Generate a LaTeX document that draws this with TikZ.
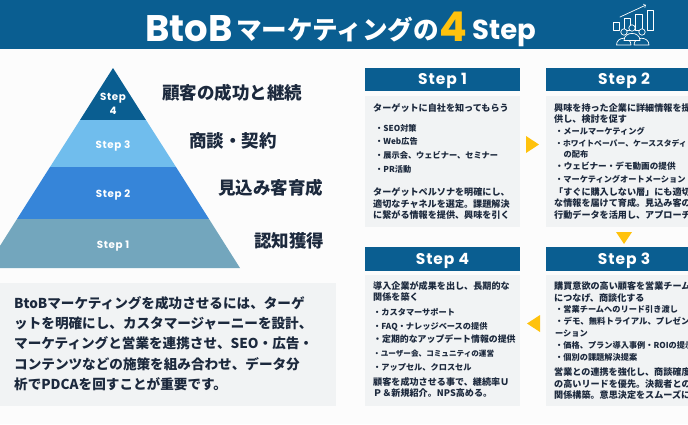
\documentclass[tikz,border=0pt]{standalone}
\usepackage{fontspec}
\usepackage{xcolor}
\setmainfont{Noto Sans CJK JP}
\newfontfamily\stepfont{Poppins}
\usetikzlibrary{arrows}
\definecolor{hdblue}{rgb}{0.04,0.37,0.57}
\definecolor{skyblue}{rgb}{0.44,0.74,0.93}
\definecolor{midblue}{rgb}{0.21,0.52,0.85}
\definecolor{greyblue}{rgb}{0.45,0.65,0.74}
\definecolor{cardgrey}{rgb}{0.945,0.953,0.957}
\definecolor{amber}{rgb}{1.,0.76,0.05}
\definecolor{inktext}{rgb}{0.11,0.16,0.24}
\newcommand{\sz}[1]{\fontsize{#1}{12}\selectfont}
\tikzset{
  stagetext/.style={inner sep=0pt,text=inktext,font=\fontsize{17.5}{19}\selectfont\bfseries},
  pyrtext/.style={inner sep=0pt,text=white,align=center,font=\stepfont\addfontfeature{LetterSpace=6}\fontsize{10.3}{14}\selectfont\bfseries},
  cardhead/.style={fill=hdblue,minimum width=156pt,minimum height=23.5pt,inner sep=0pt,text=white,font=\stepfont\addfontfeature{LetterSpace=6}\fontsize{15.5}{17}\selectfont\bfseries},
  leadtext/.style={anchor=north west,inner sep=0pt,align=left,text=inktext,font=\fontsize{9.1}{11.5}\selectfont\bfseries},
  listtext/.style={anchor=north west,inner sep=0pt,align=left,text=inktext,font=\fontsize{8.2}{#1}\selectfont\bfseries},
  icon/.style={draw=white,line width=0.7pt}
}
\begin{document}
\begin{tikzpicture}[line cap=round,line join=round,x=1.0pt,y=-1.0pt]
\useasboundingbox (0,0) rectangle (688,424);
\clip (0,0) rectangle (688,424);
\fill [color=white!99!black] (0,0) rectangle (688,424);
% title bar
\fill [color=hdblue] (0,0) rectangle (688,48.5);
\node [inner sep=0pt,anchor=base west,text=white,font=\stepfont\fontsize{37}{39}\selectfont\bfseries] (titleab) at (145,41) {BtoB};
\node [inner sep=0pt,anchor=base west,text=white,font=\fontsize{25.6}{27}\selectfont\bfseries] (titlejp) at (236,39) {マーケティングの};
\node [inner sep=0pt,anchor=base west,text=amber,font=\stepfont\fontsize{41}{43}\selectfont\bfseries] (titlefour) at (439,41) {4};
\node [inner sep=0pt,anchor=base west,text=white,font=\stepfont\fontsize{27.5}{29}\selectfont\bfseries] (titlestep) at (472,39) {Step};
% icon
\draw [icon] (613,22) rectangle (619,30);
\draw [icon] (624,18) rectangle (630,30);
\draw [icon] (635,14) rectangle (642,30);
\draw [icon] (647,10) rectangle (653,30);
\draw [icon,->] (620,17) -- (646,5);
\foreach \hx/\hy in {624/32,632/28,642/32} {
  \draw [icon,fill=hdblue] (\hx,\hy) circle (3.2pt);
}
\draw [icon,fill=hdblue] (616.5,45) .. controls (616.5,36) and (631,36) .. (631,45) -- cycle;
\draw [icon,fill=hdblue] (634,45) .. controls (634,36) and (649,36) .. (649,45) -- cycle;
\draw [icon,fill=hdblue] (624,40.5) .. controls (624,31) and (640,31) .. (640,40.5) -- cycle;
% pyramid
\fill [color=hdblue] (113,68) -- (146,120) -- (80,120) -- cycle;
\fill [color=skyblue] (80,120) -- (146,120) -- (176,167) -- (50,167) -- cycle;
\fill [color=midblue] (50,167) -- (176,167) -- (209,219) -- (17,219) -- cycle;
\fill [color=greyblue] (17,219) -- (209,219) -- (240,268) -- (-14,268) -- cycle;
\node [pyrtext] (pyrfour) at (113,104) {Step\\4};
\node [pyrtext] (pyrthree) at (113,146.5) {Step 3};
\node [pyrtext] (pyrtwo) at (113,195.5) {Step 2};
\node [pyrtext] (pyrone) at (113,246.5) {Step 1};
\node [stagetext,anchor=west] (stagefour) at (162,92.5) {顧客の成功と継続};
\node [stagetext,anchor=west] (stagethree) at (189,140.5) {商談・契約};
\node [stagetext,anchor=west] (stagetwo) at (218,188) {見込み客育成};
\node [stagetext,anchor=west] (stageone) at (254,241) {認知獲得};
% summary box
\fill [color=cardgrey] (0,283) rectangle (336,405.5);
\node [anchor=north west,inner sep=0pt,align=left,text=inktext,font=\fontsize{13.6}{20.4}\selectfont\bfseries] (summary) at (14,296) {BtoBマーケティングを成功させるには、ターゲ\\ットを明確にし、カスタマージャーニーを設計、\\マーケティングと営業を連携させ、SEO・広告・\\コンテンツなどの施策を組み合わせ、データ分\\析でPDCAを回すことが重要です。};
% cards
\fill [color=cardgrey] (364.5,96) rectangle (520,227);
\fill [color=cardgrey] (546,96) rectangle (702,227);
\fill [color=cardgrey] (364.5,275) rectangle (520,406);
\fill [color=cardgrey] (546,275) rectangle (702,406);
\fill [color=hdblue] (364.5,67.8) rectangle (520,91.3);
\fill [color=hdblue] (546,67.8) rectangle (702,91.3);
\fill [color=hdblue] (364.5,247.2) rectangle (520,270.7);
\fill [color=hdblue] (546,247.2) rectangle (702,270.7);
\node [cardhead,fill=none] (headone) at (442.5,81) {Step 1};
\node [cardhead,fill=none] (headtwo) at (624,81) {Step 2};
\node [cardhead,fill=none] (headfour) at (442.5,260.5) {Step 4};
\node [cardhead,fill=none] (headthree) at (624,260.5) {Step 3};
% step 1
\node [leadtext] (leadone) at (373,103) {ターゲットに自社を知ってもらう};
\node [listtext=13.6] (listone) at (375,124) {・SEO対策\\・Web広告\\・展示会、ウェビナー、セミナー\\・PR活動};
\node [leadtext] (closeone) at (373,187.5) {ターゲットペルソナを明確にし、\\適切なチャネルを選定。課題解決\\に繋がる情報を提供、興味を引く};
% step 2
\node [leadtext] (leadtwo) at (554,103) {興味を持った企業に詳細情報を提\\供し、検討を促す};
\node [listtext=11.4] (listtwo) at (555,127.5) {・メールマーケティング\\{\sz{7.8}・ホワイトペーパー、ケーススタディ}\\\hspace{8.4pt}の配布\\{\sz{8.6}・ウェビナー・デモ動画の提供}\\[1.5pt]・マーケティングオートメーション};
\node [leadtext] (closetwo) at (554,187.5) {「すぐに購入しない層」にも適切\\な情報を届けて育成。見込み客の\\行動データを活用し、アプローチ};
% step 4
\node [leadtext] (leadfour) at (373,281) {導入企業が成果を出し、長期的な\\関係を築く};
\node [listtext=13.8] (listfour) at (373,308) {・カスタマーサポート\\・FAQ・ナレッジベースの提供\\{\sz{8.9}・定期的なアップデート情報の提供}\\{\sz{7.6}・ユーザー会、コミュニティの運営}\\・アップセル、クロスセル};
\node [leadtext] (closefour) at (373,377) {顧客を成功させる事で、継続率Ｕ\\Ｐ＆新規紹介。NPS高める。};
% step 3
\node [leadtext] (leadthree) at (554,281.5) {購買意欲の高い顧客を営業チーム\\につなげ、商談化する};
\node [listtext=11.9] (listthree) at (555,305.5) {・営業チームへのリード引き渡し\\{\sz{8.4}・デモ、無料トライアル、プレゼンテ}\\ーション\\・価格、プラン導入事例・ROIの提示\\・個別の課題解決提案};
\node [leadtext] (closethree) at (554,367.5) {営業との連携を強化し、商談確度\\の高いリードを優先。決裁者との\\関係構築。意思決定をスムーズに};
% arrows between cards
\fill [color=amber] (526,136) -- (539,144.5) -- (526,153) -- cycle;
\fill [color=amber] (616,232) -- (632,232) -- (624,244) -- cycle;
\fill [color=amber] (540,315) -- (527,323.5) -- (540,332) -- cycle;
\end{tikzpicture}
\end{document}
